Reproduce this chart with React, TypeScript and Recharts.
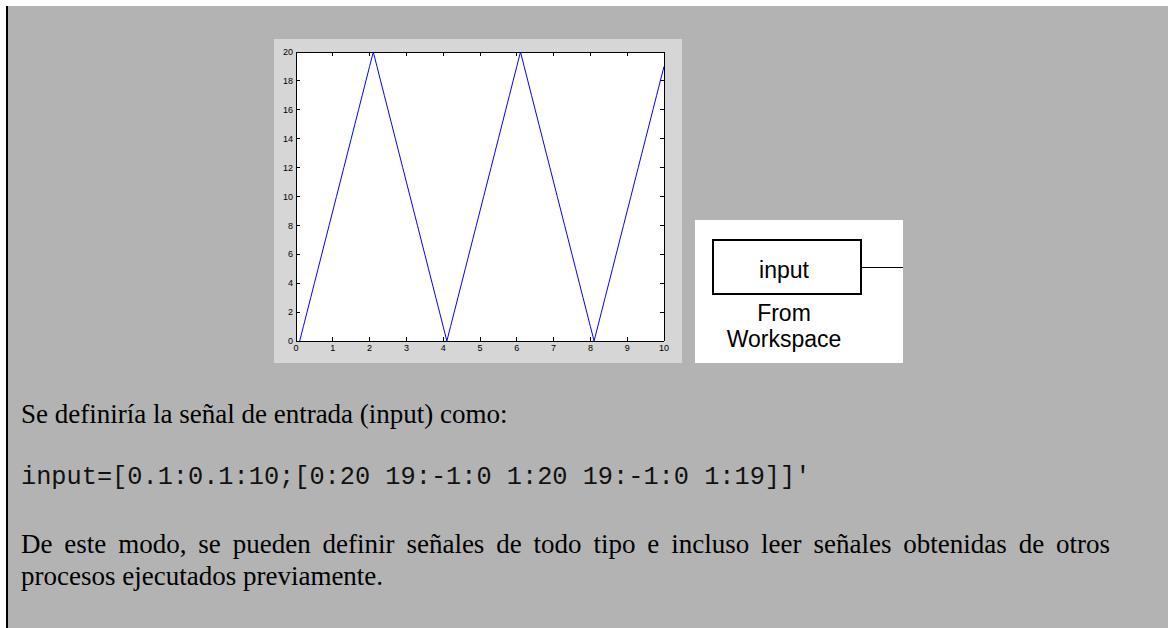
import React from 'react';
import { LineChart, Line, XAxis, YAxis, CartesianGrid } from 'recharts';

// Sample times of the workspace signal: 0.1:0.1:10
const TIME = [
  0.1, 0.2, 0.3, 0.4, 0.5, 0.6, 0.7, 0.8, 0.9, 1.0,
  1.1, 1.2, 1.3, 1.4, 1.5, 1.6, 1.7, 1.8, 1.9, 2.0,
  2.1, 2.2, 2.3, 2.4, 2.5, 2.6, 2.7, 2.8, 2.9, 3.0,
  3.1, 3.2, 3.3, 3.4, 3.5, 3.6, 3.7, 3.8, 3.9, 4.0,
  4.1, 4.2, 4.3, 4.4, 4.5, 4.6, 4.7, 4.8, 4.9, 5.0,
  5.1, 5.2, 5.3, 5.4, 5.5, 5.6, 5.7, 5.8, 5.9, 6.0,
  6.1, 6.2, 6.3, 6.4, 6.5, 6.6, 6.7, 6.8, 6.9, 7.0,
  7.1, 7.2, 7.3, 7.4, 7.5, 7.6, 7.7, 7.8, 7.9, 8.0,
  8.1, 8.2, 8.3, 8.4, 8.5, 8.6, 8.7, 8.8, 8.9, 9.0,
  9.1, 9.2, 9.3, 9.4, 9.5, 9.6, 9.7, 9.8, 9.9, 10.0,
];

// Signal values: [0:20 19:-1:0 1:20 19:-1:0 1:19]
const INPUT = [
  0, 1, 2, 3, 4, 5, 6, 7, 8, 9, 10, 11, 12, 13, 14, 15, 16, 17, 18, 19, 20,
  19, 18, 17, 16, 15, 14, 13, 12, 11, 10, 9, 8, 7, 6, 5, 4, 3, 2, 1, 0,
  1, 2, 3, 4, 5, 6, 7, 8, 9, 10, 11, 12, 13, 14, 15, 16, 17, 18, 19, 20,
  19, 18, 17, 16, 15, 14, 13, 12, 11, 10, 9, 8, 7, 6, 5, 4, 3, 2, 1, 0,
  1, 2, 3, 4, 5, 6, 7, 8, 9, 10, 11, 12, 13, 14, 15, 16, 17, 18, 19,
];

const X_TICKS = [0, 1, 2, 3, 4, 5, 6, 7, 8, 9, 10];
const Y_TICKS = [0, 2, 4, 6, 8, 10, 12, 14, 16, 18, 20];

const data = TIME.map((t, i) => ({ t, v: INPUT[i] }));

const TICK_LEN = 4;
const TICK_FONT = 'Liberation Sans, Arial, sans-serif';

// MATLAB-style inward ticks
const BottomTick = (props: any) => {
  const { x, y, payload } = props;
  return (
    <g>
      <line x1={x} y1={y} x2={x} y2={y - TICK_LEN} stroke="#000" shapeRendering="crispEdges" />
      <text x={x} y={y + 10} textAnchor="middle" fontSize={9} fontFamily={TICK_FONT} fill="#000">
        {payload.value}
      </text>
    </g>
  );
};

const TopTick = (props: any) => {
  const { x, y } = props;
  return <line x1={x} y1={y} x2={x} y2={y + TICK_LEN} stroke="#000" shapeRendering="crispEdges" />;
};

const LeftTick = (props: any) => {
  const { x, y, payload } = props;
  return (
    <g>
      <line x1={x} y1={y} x2={x + TICK_LEN} y2={y} stroke="#000" shapeRendering="crispEdges" />
      <text x={x - 3} y={y} dy="0.35em" textAnchor="end" fontSize={9} fontFamily={TICK_FONT} fill="#000">
        {payload.value}
      </text>
    </g>
  );
};

const RightTick = (props: any) => {
  const { x, y } = props;
  return <line x1={x} y1={y} x2={x - TICK_LEN} y2={y} stroke="#000" shapeRendering="crispEdges" />;
};

const axisLine = { stroke: '#000', shapeRendering: 'crispEdges' } as any;

const serif = 'Liberation Serif, Times New Roman, serif';
const mono = 'Liberation Mono, Courier New, monospace';

export default function App() {
  return (
    <div
      style={{
        position: 'absolute',
        left: 0,
        top: 0,
        width: 1168,
        height: 628,
        background: '#ffffff',
        overflow: 'hidden',
      }}
    >
      {/* page panel */}
      <div style={{ position: 'absolute', left: 8, top: 6, right: 0, bottom: 0, background: '#b3b3b3' }} />
      <div style={{ position: 'absolute', left: 6, top: 6, width: 2, bottom: 0, background: '#000' }} />

      {/* figure window */}
      <div style={{ position: 'absolute', left: 274, top: 39, width: 408, height: 324, background: '#d6d6d6' }}>
        <LineChart width={408} height={324} data={data} margin={{ top: 12, right: 17, bottom: 0, left: 0 }}>
          <CartesianGrid fill="#ffffff" stroke="none" horizontal={false} vertical={false} />
          <XAxis
            type="number"
            dataKey="t"
            domain={[0, 10]}
            ticks={X_TICKS}
            interval={0}
            height={22}
            tickLine={false}
            tickSize={0}
            tickMargin={0}
            axisLine={axisLine}
            tick={(p: any) => <BottomTick {...p} />}
          />
          <XAxis
            xAxisId="top"
            orientation="top"
            type="number"
            dataKey="t"
            domain={[0, 10]}
            ticks={X_TICKS}
            interval={0}
            height={1}
            tickLine={false}
            tickSize={0}
            tickMargin={0}
            axisLine={axisLine}
            tick={(p: any) => <TopTick {...p} />}
          />
          <YAxis
            type="number"
            domain={[0, 20]}
            ticks={Y_TICKS}
            interval={0}
            width={22}
            tickLine={false}
            tickSize={0}
            tickMargin={0}
            axisLine={axisLine}
            tick={(p: any) => <LeftTick {...p} />}
          />
          <YAxis
            yAxisId="right"
            orientation="right"
            type="number"
            dataKey="v"
            domain={[0, 20]}
            ticks={Y_TICKS}
            interval={0}
            width={1}
            tickLine={false}
            tickSize={0}
            tickMargin={0}
            axisLine={axisLine}
            tick={(p: any) => <RightTick {...p} />}
          />
          <Line
            type="linear"
            dataKey="v"
            stroke="#0000ff"
            strokeWidth={1}
            dot={false}
            activeDot={false}
            isAnimationActive={false}
          />
        </LineChart>
      </div>

      {/* From Workspace block */}
      <svg style={{ position: 'absolute', left: 695, top: 220 }} width={208} height={143}>
        <rect x={0} y={0} width={208} height={143} fill="#ffffff" />
        <rect x={18} y={20} width={148} height={54} fill="#ffffff" stroke="#000" strokeWidth={2} />
        <line x1={167} y1={47.5} x2={208} y2={47.5} stroke="#000" strokeWidth={1} />
        <text x={89} y={58} textAnchor="middle" fontSize={23} fontFamily={TICK_FONT} fill="#000">
          input
        </text>
        <text x={89} y={101} textAnchor="middle" fontSize={23} fontFamily={TICK_FONT} fill="#000">
          From
        </text>
        <text x={89} y={127} textAnchor="middle" fontSize={23} fontFamily={TICK_FONT} fill="#000">
          Workspace
        </text>
      </svg>

      {/* text */}
      <div
        style={{
          position: 'absolute',
          left: 21,
          top: 399,
          fontFamily: serif,
          fontSize: 27,
          lineHeight: '30px',
          color: '#000',
          whiteSpace: 'nowrap',
        }}
      >
        Se definiría la señal de entrada (input) como:
      </div>
      <div
        style={{
          position: 'absolute',
          left: 21,
          top: 463,
          fontFamily: mono,
          fontSize: 25.3,
          lineHeight: '30px',
          color: '#111',
          whiteSpace: 'nowrap',
        }}
      >
        input=[0.1:0.1:10;[0:20 19:-1:0 1:20 19:-1:0 1:19]]'
      </div>
      <div
        style={{
          position: 'absolute',
          left: 21,
          top: 529,
          width: 1089,
          fontFamily: serif,
          fontSize: 27,
          lineHeight: '30px',
          color: '#000',
          textAlign: 'justify',
          textAlignLast: 'justify',
          whiteSpace: 'nowrap',
        }}
      >
        De este modo, se pueden definir señales de todo tipo e incluso leer señales obtenidas de otros
      </div>
      <div
        style={{
          position: 'absolute',
          left: 21,
          top: 561,
          fontFamily: serif,
          fontSize: 27,
          lineHeight: '30px',
          color: '#000',
          whiteSpace: 'nowrap',
        }}
      >
        procesos ejecutados previamente.
      </div>
    </div>
  );
}
